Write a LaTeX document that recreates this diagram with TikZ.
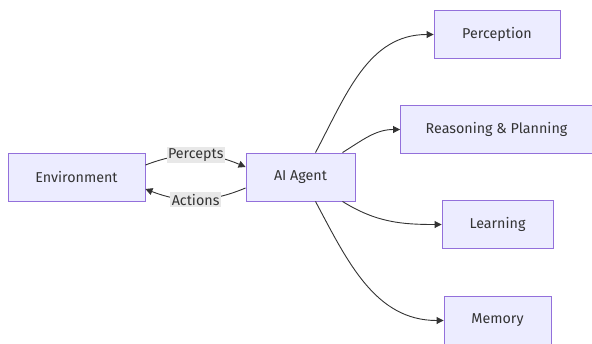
\documentclass[tikz,border=0pt]{standalone}
\usepackage{fontspec}
\setmainfont{Fira Sans}
\usetikzlibrary{arrows.meta}
\definecolor{boxfill}{HTML}{ECECFF}
\definecolor{boxline}{HTML}{9370DB}
\definecolor{edgeline}{HTML}{333333}
\definecolor{labelfill}{HTML}{E8E8E8}
\begin{document}
\begin{tikzpicture}[x=1pt,y=1pt,
                    font=\fontsize{14.3}{17}\selectfont,
                    block/.style={rectangle,draw=boxline,fill=boxfill,line width=0.9pt,
                                  minimum height=48pt,inner sep=0pt,text=black!80},
                    link/.style={draw=edgeline,line width=0.9pt,-{Triangle[length=7pt,width=7pt]}},
                    edge label/.style={fill=labelfill,inner sep=1.5pt,text=black!80}]
      \useasboundingbox (0,0) rectangle (592,-343);

      % Define vertices
      \node[block,minimum width=137pt] (env) at (76.5,-177) {Environment};
      \node[block,minimum width=109pt] (agent) at (300.5,-177) {AI Agent};
      \node[block,minimum width=126pt] (perc) at (497,-34.5) {Perception};
      \node[block,minimum width=192pt] (reas) at (496.5,-129.5) {Reasoning \& Planning};
      \node[block,minimum width=111pt] (learn) at (497.5,-224.5) {Learning};
      \node[block,minimum width=107pt] (mem) at (497.5,-320.5) {Memory};

      % Define edges
      \draw[link] ([yshift=12pt]env.east) to[bend left=22]
        node[edge label] {Percepts} ([yshift=10pt]agent.west);
      \draw[link] ([yshift=-11pt]agent.west) to[bend left=22]
        node[edge label] {Actions} ([yshift=-12pt]env.east);

      \draw[link] ([xshift=15pt]agent.north) to[out=62,in=180] (perc.west);
      \draw[link] ([xshift=42pt]agent.north) to[out=32,in=180] (reas.west);
      \draw[link] ([xshift=42pt]agent.south) to[out=-32,in=180] (learn.west);
      \draw[link] ([xshift=15pt]agent.south) to[out=-62,in=180] (mem.west);

\end{tikzpicture}
\end{document}
